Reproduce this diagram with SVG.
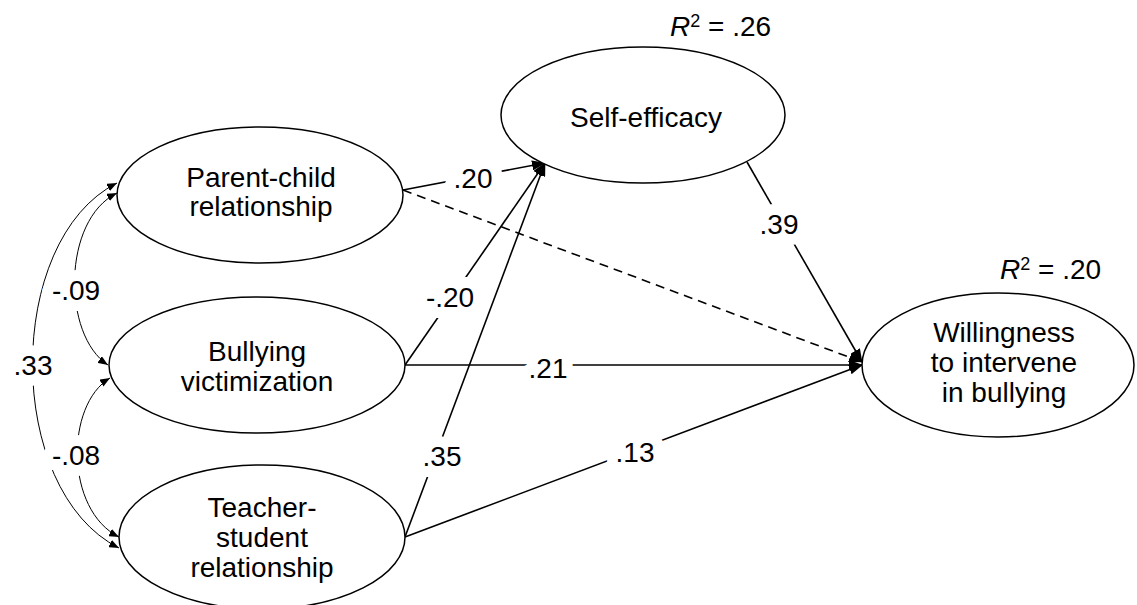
<svg xmlns="http://www.w3.org/2000/svg" width="1137" height="605" viewBox="0 0 1137 605">
<defs>
<style>
.node{fill:#fff;stroke:#000;stroke-width:1.5}
.t{font-family:"Liberation Sans",Arial,sans-serif;font-size:28px;fill:#000;text-anchor:middle}
.lbl{font-family:"Liberation Sans",Arial,sans-serif;font-size:28px;fill:#000;text-anchor:middle;stroke:#fff;stroke-width:22px;paint-order:stroke;stroke-linejoin:round}
.r2{font-family:"Liberation Sans",Arial,sans-serif;font-size:28px;fill:#000}
.path{fill:none;stroke:#000;stroke-width:1.6}
.cov{fill:none;stroke:#000;stroke-width:1}
</style>
<marker id="ah" markerWidth="14" markerHeight="10" refX="13" refY="5" orient="auto" markerUnits="userSpaceOnUse">
<path d="M0,0 L14,5 L0,10 Z" fill="#000"/>
</marker>
<marker id="ahs" markerWidth="10" markerHeight="8" refX="10" refY="4" orient="auto-start-reverse" markerUnits="userSpaceOnUse">
<path d="M0,0 L10,4 L0,8 Z" fill="#000"/>
</marker>
</defs>
<rect width="1137" height="605" fill="#fff"/>

<g id="connectors">
<path class="cov" d="M117,183 C4,240 4,490 119,548" marker-start="url(#ahs)" marker-end="url(#ahs)"/>
<path class="cov" d="M117,193 C62,220 62,335 108,365" marker-start="url(#ahs)" marker-end="url(#ahs)"/>
<path class="cov" d="M110,378 C65,405 65,510 119,537" marker-start="url(#ahs)" marker-end="url(#ahs)"/>
<line class="path" x1="403" y1="190" x2="545" y2="163" marker-end="url(#ah)"/>
<line class="path" x1="403" y1="190" x2="862" y2="362" stroke-dasharray="9,6" marker-end="url(#ah)"/>
<line class="path" x1="405" y1="365" x2="545" y2="163" marker-end="url(#ah)"/>
<line class="path" x1="405" y1="365" x2="862" y2="365" marker-end="url(#ah)"/>
<line class="path" x1="405" y1="537" x2="545" y2="163" marker-end="url(#ah)"/>
<line class="path" x1="405" y1="537" x2="862" y2="365" marker-end="url(#ah)"/>
<line class="path" x1="747" y1="162" x2="862" y2="362" marker-end="url(#ah)"/>
</g>

<g id="labels">
<text class="lbl" x="33" y="375">.33</text>
<text class="lbl" x="76" y="300">-.09</text>
<text class="lbl" x="76" y="465">-.08</text>
<text class="lbl" x="473" y="188">.20</text>
<text class="lbl" x="450" y="307">-.20</text>
<text class="lbl" x="548" y="378">.21</text>
<text class="lbl" x="442" y="466">.35</text>
<text class="lbl" x="635" y="462">.13</text>
<text class="lbl" x="779" y="234">.39</text>
</g>

<g id="parent-child">
<ellipse class="node" cx="260" cy="195" rx="143" ry="68"/>
<text class="t" x="261" y="187">Parent-child</text>
<text class="t" x="261" y="216">relationship</text>
</g>
<g id="bullying-victimization">
<ellipse class="node" cx="257" cy="365" rx="148" ry="68"/>
<text class="t" x="257" y="361">Bullying</text>
<text class="t" x="257" y="391">victimization</text>
</g>
<g id="teacher-student">
<ellipse class="node" cx="262" cy="537" rx="143" ry="72"/>
<text class="t" x="262" y="517">Teacher-</text>
<text class="t" x="262" y="547">student</text>
<text class="t" x="262" y="577">relationship</text>
</g>
<g id="self-efficacy">
<ellipse class="node" cx="643" cy="115" rx="142" ry="68"/>
<text class="t" x="646" y="127">Self-efficacy</text>
<text class="r2" x="670" y="36"><tspan font-style="italic">R</tspan><tspan font-size="18" dy="-9">2</tspan><tspan dy="9"> = .26</tspan></text>
</g>
<g id="willingness">
<ellipse class="node" cx="998" cy="365" rx="136" ry="72"/>
<text class="t" x="1004" y="342">Willingness</text>
<text class="t" x="1004" y="372">to intervene</text>
<text class="t" x="1004" y="402">in bullying</text>
<text class="r2" x="1000" y="279"><tspan font-style="italic">R</tspan><tspan font-size="18" dy="-9">2</tspan><tspan dy="9"> = .20</tspan></text>
</g>
</svg>
